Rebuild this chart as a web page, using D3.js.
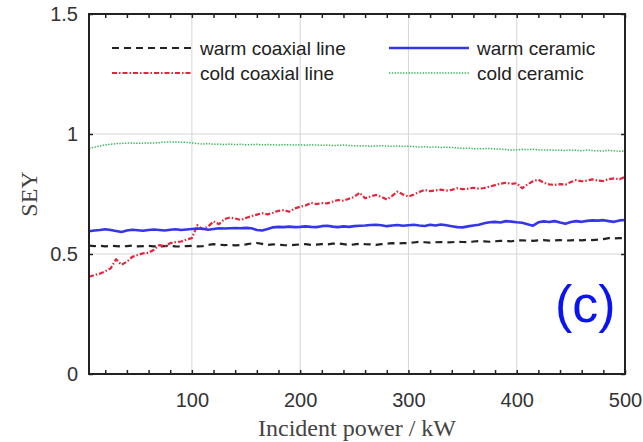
<!DOCTYPE html>
<html>
<head>
<meta charset="utf-8">
<script src="https://cdn.jsdelivr.net/npm/d3@7"></script>
<style>
  body { margin: 0; background: #fff; }
  svg { display: block; }
</style>
</head>
<body>
<svg id="chart" width="643" height="442"></svg>
<script>
// incident power (kW)
const power = [5, 10, 15, 20, 25, 30, 35, 40, 45, 50, 55, 60, 65, 70, 75, 80, 85, 90, 95, 100,
  105, 110, 115, 120, 125, 130, 135, 140, 145, 150, 155, 160, 165, 170, 175, 180, 185, 190, 195, 200,
  205, 210, 215, 220, 225, 230, 235, 240, 245, 250, 255, 260, 265, 270, 275, 280, 285, 290, 295, 300,
  305, 310, 315, 320, 325, 330, 335, 340, 345, 350, 355, 360, 365, 370, 375, 380, 385, 390, 395, 400,
  405, 410, 415, 420, 425, 430, 435, 440, 445, 450, 455, 460, 465, 470, 475, 480, 485, 490, 495, 500]

const warmCoax = [0.535, 0.533, 0.534, 0.532, 0.534, 0.533, 0.531, 0.533, 0.535, 0.532, 0.533, 0.534, 0.532, 0.531, 0.533, 0.534, 0.532, 0.531, 0.533, 0.534,
  0.532, 0.533, 0.538, 0.541, 0.539, 0.537, 0.538, 0.536, 0.537, 0.540, 0.544, 0.546, 0.542, 0.538, 0.540, 0.539, 0.537, 0.536, 0.538, 0.540,
  0.541, 0.538, 0.539, 0.541, 0.540, 0.543, 0.544, 0.541, 0.538, 0.540, 0.543, 0.541, 0.540, 0.538, 0.541, 0.543, 0.545, 0.544, 0.545, 0.546,
  0.548, 0.551, 0.549, 0.547, 0.549, 0.550, 0.548, 0.549, 0.551, 0.550, 0.549, 0.552, 0.554, 0.553, 0.551, 0.553, 0.555, 0.554, 0.553, 0.556,
  0.557, 0.556, 0.555, 0.557, 0.558, 0.556, 0.557, 0.558, 0.556, 0.557, 0.558, 0.557, 0.559, 0.558, 0.560, 0.562, 0.566, 0.565, 0.566, 0.567]

const coldCoax = [0.405, 0.412, 0.418, 0.428, 0.440, 0.478, 0.455, 0.468, 0.488, 0.496, 0.503, 0.505, 0.518, 0.537, 0.532, 0.545, 0.549, 0.552, 0.560, 0.566,
  0.620, 0.603, 0.614, 0.636, 0.624, 0.645, 0.652, 0.648, 0.642, 0.650, 0.658, 0.664, 0.670, 0.665, 0.672, 0.680, 0.683, 0.676, 0.690, 0.697,
  0.702, 0.714, 0.708, 0.712, 0.711, 0.718, 0.725, 0.722, 0.730, 0.738, 0.755, 0.732, 0.740, 0.746, 0.738, 0.727, 0.742, 0.760, 0.748, 0.739,
  0.748, 0.758, 0.767, 0.762, 0.765, 0.768, 0.764, 0.767, 0.774, 0.770, 0.772, 0.776, 0.772, 0.775, 0.781, 0.787, 0.793, 0.797, 0.792, 0.795,
  0.774, 0.790, 0.803, 0.810, 0.797, 0.790, 0.788, 0.791, 0.789, 0.800, 0.808, 0.803, 0.806, 0.811, 0.806, 0.804, 0.812, 0.815, 0.811, 0.822]

const warmCeramic = [0.595, 0.598, 0.600, 0.603, 0.600, 0.596, 0.592, 0.598, 0.601, 0.599, 0.597, 0.600, 0.602, 0.600, 0.598, 0.601, 0.603, 0.600, 0.602, 0.604,
  0.606, 0.605, 0.601, 0.604, 0.607, 0.606, 0.607, 0.608, 0.607, 0.609, 0.607, 0.600, 0.598, 0.604, 0.611, 0.613, 0.612, 0.614, 0.612, 0.613,
  0.615, 0.613, 0.612, 0.616, 0.618, 0.614, 0.612, 0.615, 0.613, 0.616, 0.618, 0.619, 0.621, 0.622, 0.620, 0.616, 0.619, 0.621, 0.618, 0.620,
  0.622, 0.619, 0.617, 0.622, 0.619, 0.623, 0.620, 0.616, 0.612, 0.611, 0.615, 0.619, 0.622, 0.628, 0.632, 0.634, 0.631, 0.637, 0.635, 0.632,
  0.630, 0.624, 0.618, 0.632, 0.636, 0.633, 0.637, 0.631, 0.626, 0.633, 0.637, 0.634, 0.638, 0.640, 0.639, 0.641, 0.637, 0.634, 0.640, 0.642]

const coldCeramic = [0.940, 0.945, 0.950, 0.955, 0.957, 0.960, 0.961, 0.962, 0.962, 0.961, 0.962, 0.963, 0.962, 0.964, 0.966, 0.967, 0.967, 0.966, 0.965, 0.963,
  0.960, 0.958, 0.960, 0.957, 0.958, 0.956, 0.958, 0.956, 0.957, 0.955, 0.956, 0.957, 0.955, 0.956, 0.955, 0.954, 0.956, 0.955, 0.954, 0.955,
  0.953, 0.955, 0.954, 0.953, 0.954, 0.952, 0.953, 0.954, 0.952, 0.951, 0.950, 0.951, 0.949, 0.950, 0.951, 0.950, 0.949, 0.950, 0.948, 0.949,
  0.947, 0.946, 0.947, 0.945, 0.946, 0.944, 0.945, 0.944, 0.942, 0.940, 0.941, 0.939, 0.938, 0.939, 0.940, 0.938, 0.937, 0.935, 0.933, 0.934,
  0.936, 0.935, 0.937, 0.934, 0.933, 0.934, 0.932, 0.933, 0.931, 0.934, 0.932, 0.930, 0.933, 0.931, 0.930, 0.929, 0.932, 0.930, 0.928, 0.929]

const xLabels = [100, 200, 300, 400, 500]
const yLabels = [0, 0.5, 1, 1.5]

const series = [
  { name: 'warm coaxial line', values: warmCoax, color: '#222', width: 2.2, dash: '7,5' },
  { name: 'cold coaxial line', values: coldCoax, color: '#e8233a', width: 2.2, dash: '5,2,1.5,2' },
  { name: 'warm ceramic', values: warmCeramic, color: '#3535ee', width: 2.6, dash: null },
  { name: 'cold ceramic', values: coldCeramic, color: '#3cb65c', width: 1.5, dash: '1.4,1.4' }
]

const margin = { top: 14, right: 18, bottom: 68, left: 89 }
const width = 643 - margin.left - margin.right
const height = 442 - margin.top - margin.bottom

const svg = d3.select('#chart')
const g = svg.append('g').attr('transform', 'translate(' + margin.left + ',' + margin.top + ')')

const x = d3.scaleLinear().domain([5, 500]).range([0, width])
const y = d3.scaleLinear().domain([0, 1.5]).range([height, 0])

// grid
g.append('g').selectAll('line').data(xLabels.filter(d => d < 500)).join('line')
  .attr('x1', d => x(d)).attr('x2', d => x(d)).attr('y1', 0).attr('y2', height)
  .attr('stroke', '#d6d6d6').attr('stroke-width', 1)
g.append('g').selectAll('line').data([0.5, 1]).join('line')
  .attr('x1', 0).attr('x2', width).attr('y1', d => y(d)).attr('y2', d => y(d))
  .attr('stroke', '#d6d6d6').attr('stroke-width', 1)

// lines
const line = d3.line().x((d, i) => x(power[i])).y(d => y(d))
series.forEach(s => {
  g.append('path')
    .datum(s.values)
    .attr('fill', 'none')
    .attr('stroke', s.color)
    .attr('stroke-width', s.width)
    .attr('stroke-dasharray', s.dash)
    .attr('stroke-linejoin', 'round')
    .attr('d', line)
})

// axes
const minor = d3.range(20, 501, 20)
g.append('g').attr('class', 'x axis').attr('transform', 'translate(0,' + height + ')')
  .call(d3.axisBottom(x).tickValues(minor).tickSize(-4).tickPadding(19)
    .tickFormat(d => xLabels.includes(d) ? d : ''))
g.append('g').attr('class', 'x axis top')
  .call(d3.axisTop(x).tickValues(minor).tickSize(-4).tickFormat(''))
g.append('g').attr('class', 'y axis')
  .call(d3.axisLeft(y).tickValues(yLabels).tickSize(-4).tickPadding(11).tickFormat(d => d))
g.append('g').attr('class', 'y axis right').attr('transform', 'translate(' + width + ',0)')
  .call(d3.axisRight(y).tickValues(yLabels).tickSize(-4).tickFormat(''))

g.selectAll('.axis path').remove()
g.selectAll('.axis .tick line').attr('stroke', '#222').attr('stroke-width', 1.5)
g.selectAll('.axis .tick text')
  .attr('font-family', 'Liberation Sans, Arial, sans-serif')
  .attr('font-size', 20)
  .attr('fill', '#333')

g.append('rect')
  .attr('width', width).attr('height', height)
  .attr('fill', 'none').attr('stroke', '#222').attr('stroke-width', 2)

// axis titles
svg.append('text')
  .text('Incident power / kW')
  .attr('x', margin.left + width / 2).attr('y', 436)
  .attr('text-anchor', 'middle')
  .attr('font-family', 'Liberation Serif, Times New Roman, serif')
  .attr('font-size', 24)
  .attr('fill', '#444')

svg.append('text')
  .text('SEY')
  .attr('transform', 'translate(37,' + (margin.top + height / 2) + ') rotate(-90)')
  .attr('text-anchor', 'middle')
  .attr('font-family', 'Liberation Serif, Times New Roman, serif')
  .attr('font-size', 24)
  .attr('fill', '#444')

// legend
const legendPos = [[112, 48], [112, 73], [389, 48], [389, 73]]
const legend = svg.append('g')
series.forEach((s, i) => {
  const [lx, ly] = legendPos[i]
  legend.append('line')
    .attr('x1', lx).attr('x2', lx + 80).attr('y1', ly).attr('y2', ly)
    .attr('stroke', s.color).attr('stroke-width', s.width)
    .attr('stroke-dasharray', s.dash)
  legend.append('text')
    .text(s.name)
    .attr('x', lx + 88).attr('y', ly + 7)
    .attr('font-family', 'Liberation Sans, Arial, sans-serif')
    .attr('font-size', 19)
    .attr('fill', '#222')
})

// panel label
svg.append('text')
  .text('(c)')
  .attr('x', 555).attr('y', 322)
  .attr('font-family', 'Liberation Sans, Arial, sans-serif')
  .attr('font-size', 52)
  .attr('fill', '#0a14f0')
</script>
</body>
</html>
